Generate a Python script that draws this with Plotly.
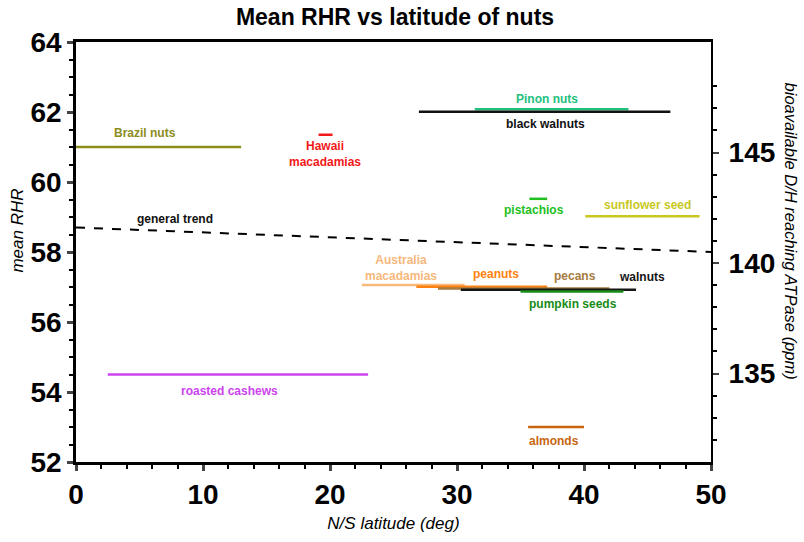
import plotly.graph_objects as go

# ---- data ----
names = ["Brazil nuts", "Hawaii macadamias", "Pinon nuts", "black walnuts", "pistachios",
         "sunflower seed", "Australia macadamias", "peanuts", "pecans", "walnuts",
         "pumpkin seeds", "roasted cashews", "almonds"]
lat_start = [0.0, 19.1, 31.4, 27.0, 35.7, 40.1, 22.5, 26.8, 28.5, 30.3, 35.0, 2.5, 35.6]
lat_end = [13.0, 20.2, 43.5, 46.8, 37.1, 49.1, 30.6, 37.1, 42.0, 44.1, 43.1, 23.0, 40.0]
mean_rhr = [61.0, 61.35, 62.08, 62.01, 59.52, 59.02, 57.06, 57.01, 56.96, 56.92, 56.87, 54.5, 53.0]

trend_lat = [0, 50]
trend_rhr = [58.7, 58.0]

x_ticks = [0, 10, 20, 30, 40, 50]
y_ticks = [52, 54, 56, 58, 60, 62, 64]
y2_ticks = [135, 140, 145]
y2_minor = [132, 133, 134, 136, 137, 138, 139, 141, 142, 143, 144, 146, 147, 148]

# ---- styles ----
colors = ["#8c8c1c", "#f21818", "#22c07c", "#111111", "#22bf22", "#c8c81e", "#f7b87c",
          "#ff8210", "#a67b3e", "#151515", "#178c17", "#cc44ee", "#c8650f"]
label_text = ["Brazil nuts", "Hawaii<br>macadamias", "Pinon nuts", "black walnuts", "pistachios",
              "sunflower seed", "Australia<br>macadamias", "peanuts", "pecans", "walnuts",
              "pumpkin seeds", "roasted cashews", "almonds"]
label_x = [5.43, 19.6, 37.1, 37.0, 36.1, 45.0, 25.6, 33.1, 39.3, 44.6, 39.1, 12.1, 37.6]
label_y = [61.39, 60.79, 62.38, 61.65, 59.2, 59.35, 57.53, 57.36, 57.32, 57.3, 56.51, 54.04, 52.6]

FONT = '"Liberation Sans", Arial, sans-serif'

fig = go.Figure()
for i, n in enumerate(names):
    fig.add_trace(go.Scatter(x=[lat_start[i], lat_end[i]], y=[mean_rhr[i], mean_rhr[i]],
                             mode="lines", line=dict(color=colors[i], width=2.5),
                             name=n, showlegend=False, hoverinfo="skip"))
fig.add_trace(go.Scatter(x=trend_lat, y=trend_rhr, mode="lines",
                         line=dict(color="black", width=2, dash="dash"),
                         showlegend=False, hoverinfo="skip"))
# invisible trace to anchor secondary axis
fig.add_trace(go.Scatter(x=[None], y=[None], yaxis="y2", showlegend=False, hoverinfo="skip"))

annotations = []
for i in range(len(names)):
    annotations.append(dict(x=label_x[i], y=label_y[i], xref="x", yref="y", text=label_text[i],
                            showarrow=False, font=dict(family=FONT, size=12, color=colors[i],
                                                       weight="bold")))
annotations.append(dict(x=7.8, y=58.95, xref="x", yref="y", text="general trend",
                        showarrow=False, font=dict(family=FONT, size=12, color="#111111", weight="bold")))
annotations.append(dict(x=(791 - 76) / 635, y=0.551, xref="paper", yref="paper",
                        xanchor="center", yanchor="middle",
                        text="bioavailable D/H reaching ATPase (ppm)",
                        showarrow=False, textangle=90,
                        font=dict(family=FONT, size=16.5, color="black", style="italic")))
annotations.append(dict(x=(18 - 76) / 635, y=0.551, xref="paper", yref="paper",
                        xanchor="center", yanchor="middle", text="mean RHR",
                        showarrow=False, textangle=-90,
                        font=dict(family=FONT, size=17, color="black", style="italic")))

fig.update_layout(
    width=804, height=542,
    margin=dict(l=76, r=93, t=42, b=77),
    paper_bgcolor="white", plot_bgcolor="white",
    title=dict(text="<b>Mean RHR vs latitude of nuts</b>", x=395 / 804, xanchor="center",
               y=1 - 17 / 542, yanchor="middle", yref="container",
               font=dict(family=FONT, size=23, color="black")),
    xaxis=dict(range=[0, 50], tickvals=x_ticks, ticks="outside", ticklen=6, tickwidth=2.5,
               showline=True, linewidth=2.5, linecolor="black", mirror=True,
               showgrid=False, zeroline=False,
               minor=dict(dtick=2, ticks="outside", ticklen=4, tickwidth=2, tickcolor="black"),
               tickfont=dict(family=FONT, size=28, color="black", weight="bold"),
               title=dict(text="<i>N/S latitude (deg)</i>", standoff=8,
                          font=dict(family=FONT, size=17, color="black"))),
    yaxis=dict(range=[52, 64], tickvals=y_ticks, ticks="outside", ticklen=6, tickwidth=2.5,
               showline=True, linewidth=2.5, linecolor="black",
               showgrid=False, zeroline=False,
               minor=dict(dtick=0.5, ticks="outside", ticklen=4, tickwidth=2, tickcolor="black"),
               tickfont=dict(family=FONT, size=28, color="black", weight="bold")),
    yaxis2=dict(range=[131, 150], overlaying="y", side="right", tickvals=y2_ticks,
                ticks="outside", ticklen=6, tickwidth=2, showline=True, linewidth=2,
                linecolor="black", showgrid=False, zeroline=False, ticklabelstandoff=4,
                minor=dict(tickvals=y2_minor, ticks="outside", ticklen=4, tickwidth=1.5,
                           tickcolor="black"),
                tickfont=dict(family=FONT, size=28, color="black", weight="bold")),
    annotations=annotations,
)

fig.write_html("out.html")
